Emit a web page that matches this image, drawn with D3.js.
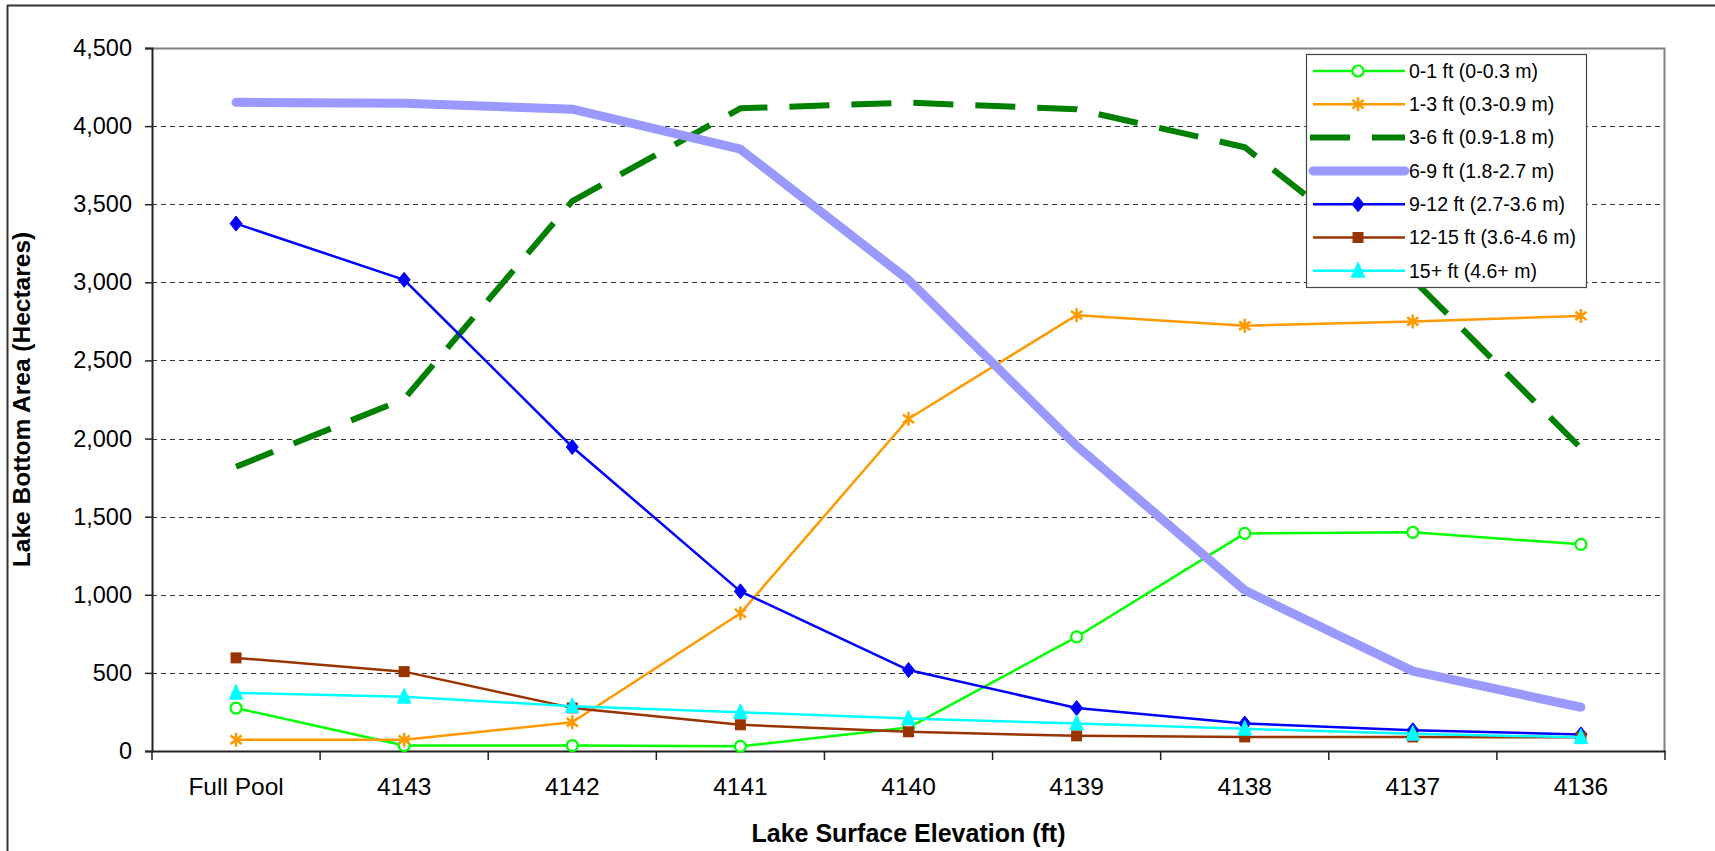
<!DOCTYPE html>
<html>
<head>
<meta charset="utf-8">
<script src="https://cdn.jsdelivr.net/npm/d3@7/dist/d3.min.js"></script>
<style>
  html, body { margin: 0; padding: 0; background: #fff; }
  svg { display: block; font-family: "Liberation Sans", Arial, sans-serif; }
</style>
</head>
<body>
<svg id="chart" width="1715" height="851"></svg>
<script>
// ---- data ----
const categories = ["Full Pool", "4143", "4142", "4141", "4140", "4139", "4138", "4137", "4136"];
const seriesNames = ["0-1 ft (0-0.3 m)", "1-3 ft (0.3-0.9 m)", "3-6 ft (0.9-1.8 m)", "6-9 ft (1.8-2.7 m)",
                     "9-12 ft (2.7-3.6 m)", "12-15 ft (3.6-4.6 m)", "15+ ft (4.6+ m)"];
const s0to1   = [275, 35, 35, 30, 150, 730, 1393, 1400, 1323];
const s1to3   = [72, 72, 184, 882, 2127, 2790, 2722, 2750, 2785];
const s3to6   = [1820, 2253, 3520, 4114, 4150, 4108, 3865, 3020, 1938];
const s6to9   = [4152, 4146, 4108, 3852, 3016, 1953, 1029, 511, 280];
const s9to12  = [3376, 3016, 1946, 1022, 518, 275, 176, 133, 106];
const s12to15 = [596, 508, 276, 168, 123, 97, 90, 90, 88];
const s15plus = [372, 347, 287, 248, 208, 176, 142, 110, 88];
const yTicks  = [0, 500, 1000, 1500, 2000, 2500, 3000, 3500, 4000, 4500];

const seriesValues = [s0to1, s1to3, s3to6, s6to9, s9to12, s12to15, s15plus];
const styles = [
  { color: "#00FF00", width: 2.5, dash: null, marker: "circle" },
  { color: "#FF9900", width: 2.5, dash: null, marker: "asterisk" },
  { color: "#008000", width: 6, dash: "40,22", marker: null },
  { color: "#9999FF", width: 9, dash: null, marker: null, cap: "round" },
  { color: "#0000FF", width: 2.5, dash: null, marker: "diamond" },
  { color: "#993300", width: 2.5, dash: null, marker: "square" },
  { color: "#00FFFF", width: 2.5, dash: null, marker: "triangle" }
];

const svg = d3.select("#chart");
const L = 152, R = 1665, T = 48, B = 751;

const x = d3.scaleBand().domain(categories).range([L, R]).padding(0);
const y = d3.scaleLinear().domain([0, 4500]).range([B, T]);
const cx = c => x(c) + x.bandwidth() / 2;

// outer frame (left + top only visible)
svg.append("line").attr("x1", 7).attr("x2", 1715).attr("y1", 5.5).attr("y2", 5.5)
  .attr("stroke", "#333").attr("stroke-width", 2);
svg.append("line").attr("x1", 7.5).attr("x2", 7.5).attr("y1", 5).attr("y2", 851)
  .attr("stroke", "#333").attr("stroke-width", 2);

// gridlines
svg.append("g").selectAll("line").data(yTicks.filter(v => v > 0 && v < 4500)).join("line")
  .attr("x1", L).attr("x2", R).attr("y1", d => Math.round(y(d)) + 0.5).attr("y2", d => Math.round(y(d)) + 0.5)
  .attr("stroke", "#333").attr("stroke-width", 1).attr("stroke-dasharray", "5,4");

// plot area border (gray)
svg.append("path")
  .attr("d", `M${L},${T + 0.5}H${R - 0.5}V${B}`)
  .attr("fill", "none").attr("stroke", "#808080").attr("stroke-width", 2);

// y axis
const yAxis = svg.append("g").attr("transform", `translate(${L},0)`)
  .call(d3.axisLeft(y).tickValues(yTicks).tickFormat(d3.format(",")).tickSize(7).tickPadding(13));
yAxis.select(".domain").attr("stroke", "#222").attr("stroke-width", 2);
yAxis.selectAll(".tick line").attr("stroke", "#222").attr("stroke-width", 1.5);
yAxis.selectAll(".tick text").attr("font-size", 23.5).attr("fill", "#000")
  .attr("font-family", "'Liberation Sans', Arial, sans-serif");

// x axis
const xAxis = svg.append("g").attr("transform", `translate(0,${B})`)
  .call(d3.axisBottom(x).tickSize(0).tickPadding(27));
xAxis.select(".domain").attr("stroke", "#222").attr("stroke-width", 2);
xAxis.selectAll(".tick text").attr("font-size", 24.5).attr("fill", "#000")
  .attr("font-family", "'Liberation Sans', Arial, sans-serif");
const bounds = categories.map(c => x(c)).concat([x.range()[1]]);
svg.append("g").selectAll("line").data(bounds).join("line")
  .attr("x1", d => d).attr("x2", d => d).attr("y1", B).attr("y2", B + 9)
  .attr("stroke", "#222").attr("stroke-width", 1.5);

// axis titles
svg.append("text").attr("x", (L + R) / 2).attr("y", 842).attr("text-anchor", "middle")
  .attr("font-size", 25).attr("font-weight", "bold").text("Lake Surface Elevation (ft)");
svg.append("text").attr("transform", `translate(30,${(T + B) / 2}) rotate(-90)`).attr("text-anchor", "middle")
  .attr("font-size", 24.5).attr("font-weight", "bold").text("Lake Bottom Area (Hectares)");

// marker drawing
function drawMarker(g, type, color, px, py) {
  if (type === "circle") {
    g.append("circle").attr("cx", px).attr("cy", py).attr("r", 5.5)
      .attr("fill", "#fff").attr("stroke", color).attr("stroke-width", 2.2);
  } else if (type === "asterisk") {
    const r = 7;
    const p = d3.path();
    p.moveTo(px, py - r); p.lineTo(px, py + r);
    p.moveTo(px - r * 0.8, py - r * 0.6); p.lineTo(px + r * 0.8, py + r * 0.6);
    p.moveTo(px - r * 0.8, py + r * 0.6); p.lineTo(px + r * 0.8, py - r * 0.6);
    g.append("path").attr("d", p.toString()).attr("stroke", color).attr("stroke-width", 2.5).attr("fill", "none");
  } else if (type === "diamond") {
    const r = 7.5;
    g.append("path").attr("d", `M${px},${py - r}L${px + r * 0.8},${py}L${px},${py + r}L${px - r * 0.8},${py}Z`)
      .attr("fill", color).attr("stroke", color).attr("stroke-width", 1);
  } else if (type === "square") {
    const s = 11;
    g.append("rect").attr("x", px - s / 2).attr("y", py - s / 2).attr("width", s).attr("height", s)
      .attr("fill", color);
  } else if (type === "triangle") {
    const r = 8.5;
    g.append("path").attr("d", `M${px},${py - r}L${px + r * 0.8},${py + r * 0.75}L${px - r * 0.8},${py + r * 0.75}Z`)
      .attr("fill", color).attr("stroke", color).attr("stroke-width", 1);
  }
}

const line = d3.line().x(d => cx(d.c)).y(d => y(d.v));

seriesValues.forEach((vals, i) => {
  const st = styles[i];
  const pts = vals.map((v, j) => ({ c: categories[j], v }));
  const g = svg.append("g");
  g.append("path").datum(pts).attr("d", line)
    .attr("fill", "none").attr("stroke", st.color).attr("stroke-width", st.width)
    .attr("stroke-dasharray", st.dash).attr("stroke-linecap", st.cap || "butt")
    .attr("stroke-linejoin", "round");
  if (st.marker) pts.forEach(p => drawMarker(g, st.marker, st.color, cx(p.c), y(p.v)));
});

// legend
const lx = 1306, ly = 54, lw = 280, lh = 233;
const lg = svg.append("g");
lg.append("rect").attr("x", lx + 0.5).attr("y", ly + 0.5).attr("width", lw).attr("height", lh)
  .attr("fill", "#fff").attr("stroke", "#444").attr("stroke-width", 1.2);
seriesNames.forEach((name, i) => {
  const st = styles[i];
  const yy = ly + 17 + i * 33.3;
  lg.append("line").attr("x1", st.dash ? 1310 : 1313).attr("x2", 1405).attr("y1", yy).attr("y2", yy)
    .attr("stroke", st.color).attr("stroke-width", st.width)
    .attr("stroke-dasharray", st.dash).attr("stroke-linecap", st.cap || "butt");
  if (st.marker) drawMarker(lg, st.marker, st.color, 1358, yy);
  lg.append("text").attr("x", 1409).attr("y", yy).attr("dy", "0.35em")
    .attr("font-size", 19.5).attr("fill", "#000").text(name);
});
</script>
</body>
</html>
